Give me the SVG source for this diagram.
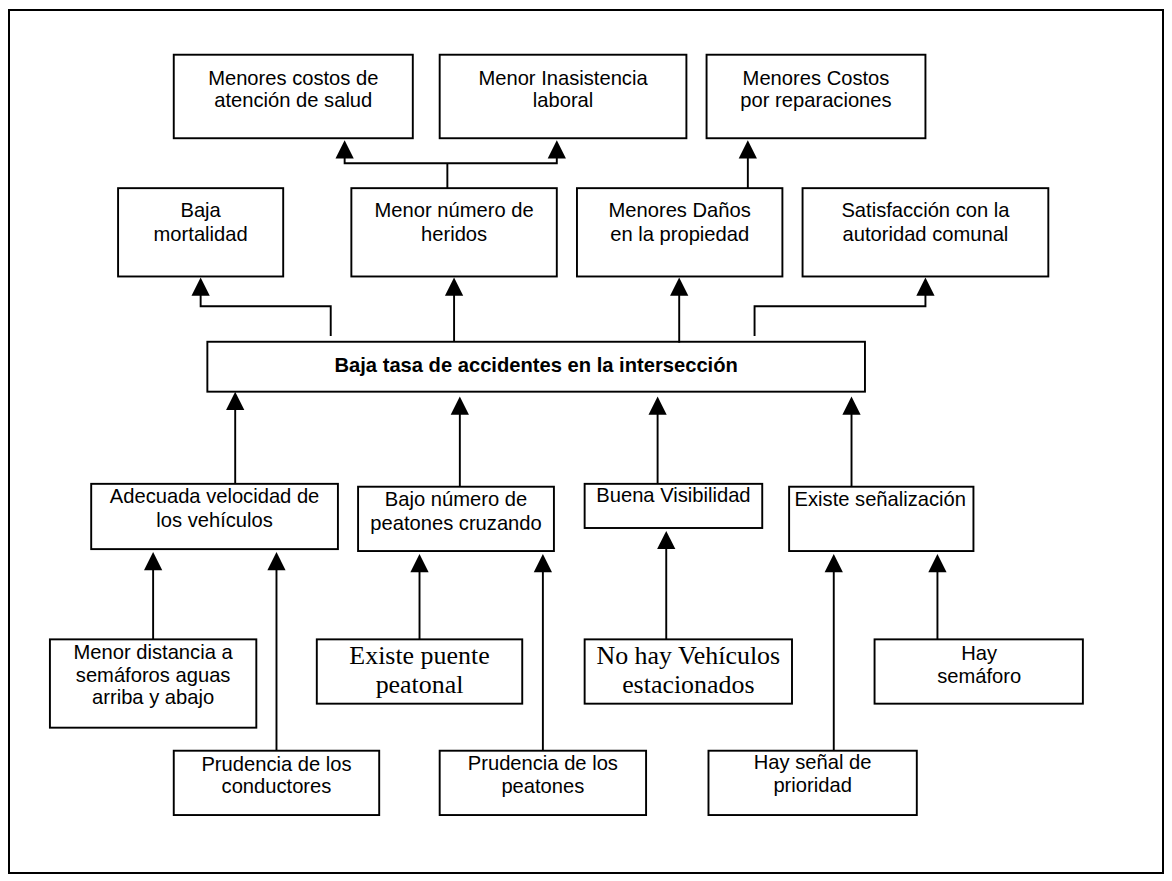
<svg xmlns="http://www.w3.org/2000/svg" width="1172" height="881" viewBox="0 0 1172 881">
<style>
.box{fill:#fff;stroke:#000;stroke-width:2}
.t{font-family:"Liberation Sans",Arial,sans-serif;font-size:21px;text-anchor:middle;fill:#000}
.b{font-weight:bold}
.tr{font-family:"Liberation Serif","Times New Roman",serif;font-size:27px;text-anchor:middle;fill:#000}
.ln{fill:none;stroke:#000;stroke-width:2}
.ah{fill:#000;stroke:none}
</style>
<rect width="1172" height="881" fill="#fff"/>
<rect x="9" y="10" width="1154" height="863" fill="none" stroke="#000" stroke-width="2"/>
<g id="diagram" transform="scale(0.96)">
<g id="n-costos-salud"><rect class="box" x="181" y="57" width="249" height="87"/><text class="t" x="305.5" y="88.3">Menores costos de</text><text class="t" x="305.5" y="111.7">atención de salud</text></g>
<g id="n-inasistencia"><rect class="box" x="458" y="57" width="257" height="87"/><text class="t" x="586.5" y="88.3">Menor Inasistencia</text><text class="t" x="586.5" y="111.7">laboral</text></g>
<g id="n-costos-rep"><rect class="box" x="736" y="57" width="228" height="87"/><text class="t" x="850" y="88.3">Menores Costos</text><text class="t" x="850" y="111.7">por reparaciones</text></g>

<g id="n-mortalidad"><rect class="box" x="123" y="196" width="172" height="92"/><text class="t" x="209" y="226">Baja</text><text class="t" x="209" y="251">mortalidad</text></g>
<g id="n-heridos"><rect class="box" x="366" y="196" width="214" height="92"/><text class="t" x="473" y="226">Menor número de</text><text class="t" x="473" y="251">heridos</text></g>
<g id="n-danos"><rect class="box" x="601" y="196" width="214" height="92"/><text class="t" x="708" y="226">Menores Daños</text><text class="t" x="708" y="251">en la propiedad</text></g>
<g id="n-satisfaccion"><rect class="box" x="836" y="196" width="256" height="92"/><text class="t" x="964" y="226">Satisfacción con la</text><text class="t" x="964" y="251">autoridad comunal</text></g>

<g id="n-central"><rect class="box" x="216" y="356" width="685" height="52"/><text class="t b" x="558.5" y="388">Baja tasa de accidentes en la intersección</text></g>

<g id="n-velocidad"><rect class="box" x="95" y="504" width="257" height="68"/><text class="t" x="223.5" y="524">Adecuada velocidad de</text><text class="t" x="223.5" y="549">los vehículos</text></g>
<g id="n-peatones-cruzando"><rect class="box" x="373" y="507" width="204" height="67"/><text class="t" x="475" y="527">Bajo número de</text><text class="t" x="475" y="552">peatones cruzando</text></g>
<g id="n-visibilidad"><rect class="box" x="609" y="504" width="185" height="46"/><text class="t" x="701.5" y="523">Buena Visibilidad</text></g>
<g id="n-senalizacion"><rect class="box" x="822" y="507" width="192" height="67"/><text class="t" x="917" y="527.5">Existe señalización</text></g>

<g id="n-distancia"><rect class="box" x="52" y="666" width="215" height="92"/><text class="t" x="159.5" y="686.7">Menor distancia a</text><text class="t" x="159.5" y="710">semáforos aguas</text><text class="t" x="159.5" y="733.3">arriba y abajo</text></g>
<g id="n-prud-conductores"><rect class="box" x="181" y="782" width="214" height="67"/><text class="t" x="288" y="803">Prudencia de los</text><text class="t" x="288" y="826.5">conductores</text></g>
<g id="n-puente"><rect class="box" x="330" y="666" width="214" height="67"/><text class="tr" x="437" y="691.7">Existe puente</text><text class="tr" x="437" y="721.7">peatonal</text></g>
<g id="n-prud-peatones"><rect class="box" x="458" y="782" width="215" height="67"/><text class="t" x="565.5" y="802">Prudencia de los</text><text class="t" x="565.5" y="826">peatones</text></g>
<g id="n-estacionados"><rect class="box" x="609" y="666" width="216" height="67"/><text class="tr" x="717" y="691.7">No hay Vehículos</text><text class="tr" x="717" y="721.7">estacionados</text></g>
<g id="n-prioridad"><rect class="box" x="738" y="782" width="217" height="67"/><text class="t" x="846.5" y="801.5">Hay señal de</text><text class="t" x="846.5" y="825.5">prioridad</text></g>
<g id="n-semaforo"><rect class="box" x="911" y="666" width="217" height="67"/><text class="t" x="1020" y="687.3">Hay</text><text class="t" x="1020" y="711.7">semáforo</text></g>

<g id="connectors">
<path class="ln" d="M466,196 V170 M359,163 V170 H580 V163"/>
<polygon class="ah" points="359,146 349.5,165 368.5,165"/>
<polygon class="ah" points="580,146 570.5,165 589.5,165"/>
<path class="ln" d="M779,196 V163"/>
<polygon class="ah" points="779,146 769.5,165 788.5,165"/>
<path class="ln" d="M344.5,350 V319 H209 V306"/>
<polygon class="ah" points="209,289 199.5,308 218.5,308"/>
<path class="ln" d="M473,356 V306"/>
<polygon class="ah" points="473,289 463.5,308 482.5,308"/>
<path class="ln" d="M707.5,357 V306"/>
<polygon class="ah" points="707.5,289 698,308 717,308"/>
<path class="ln" d="M786,350 V319 H964 V306"/>
<polygon class="ah" points="964,289 954.5,308 973.5,308"/>
<path class="ln" d="M245,504 V425"/>
<polygon class="ah" points="245,408 235.5,427 254.5,427"/>
<path class="ln" d="M479,507 V430"/>
<polygon class="ah" points="479,413 469.5,432 488.5,432"/>
<path class="ln" d="M685,504 V430"/>
<polygon class="ah" points="685,413 675.5,432 694.5,432"/>
<path class="ln" d="M887,507 V430"/>
<polygon class="ah" points="887,413 877.5,432 896.5,432"/>
<path class="ln" d="M159.5,666 V592"/>
<polygon class="ah" points="159.5,575 150,594 169,594"/>
<path class="ln" d="M288,782 V592"/>
<polygon class="ah" points="288,575 278.5,594 297.5,594"/>
<path class="ln" d="M437,666 V594"/>
<polygon class="ah" points="437,577 427.5,596 446.5,596"/>
<path class="ln" d="M565.5,782 V594"/>
<polygon class="ah" points="565.5,577 556,596 575,596"/>
<path class="ln" d="M694,666 V570"/>
<polygon class="ah" points="694,553 684.5,572 703.5,572"/>
<path class="ln" d="M868.5,782 V594"/>
<polygon class="ah" points="868.5,577 859,596 878,596"/>
<path class="ln" d="M976.5,666 V594"/>
<polygon class="ah" points="976.5,577 967,596 986,596"/>
</g>
</g>
</svg>
